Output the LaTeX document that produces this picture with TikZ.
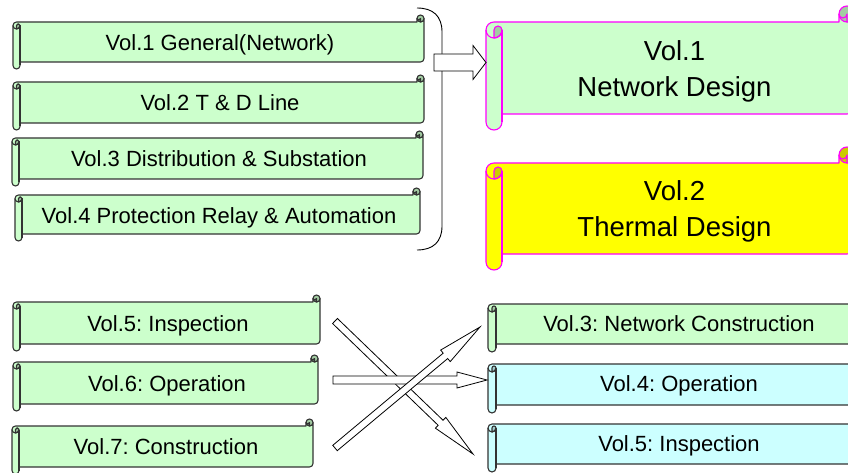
\documentclass[tikz,border=0pt]{standalone}
\usepackage{fontspec}
\setmainfont{Liberation Sans}
\usetikzlibrary{calc}
\frenchspacing

\definecolor{scrollgreen}{HTML}{CCFFCC}
\definecolor{scrollgreend}{HTML}{A3CCA3}
\definecolor{scrollcyan}{HTML}{CCFFFF}
\definecolor{scrollcyand}{HTML}{A3CCCC}
\definecolor{scrollyellow}{HTML}{FFFF00}
\definecolor{scrollyellowd}{HTML}{CCCC00}
\definecolor{rimmagenta}{HTML}{FF00FF}
\definecolor{rimdark}{HTML}{333333}

% horizontal scroll: left, top, right, bottom, roll size, fill, curl fill, line
\newcommand{\hscroll}[8]{%
  \pgfmathsetmacro{\scrh}{#5/2}\pgfmathsetmacro{\scrq}{#5/4}%
  \filldraw[fill=#6, draw=#8, scrollline]
    (#3,{#2+\scrh}) arc[start angle=0, end angle=90, radius=\scrh]
    -- ({#3-\scrh},{#2+\scrh}) arc[start angle=0, end angle=180, radius=\scrq]
    -- ({#3-#5},{#2+#5}) -- ({#1+\scrh},{#2+#5})
    arc[start angle=270, end angle=180, radius=\scrh]
    -- (#1,{#4-\scrh}) arc[start angle=180, end angle=0, radius=\scrh]
    -- ({#1+#5},{#4-#5}) -- ({#3-\scrh},{#4-#5})
    arc[start angle=90, end angle=0, radius=\scrh] -- cycle;
  % right curl
  \filldraw[fill=#7, draw=#8, scrollline] ({#3-\scrh},{#2+\scrh}) circle[radius=\scrh];
  \draw[draw=#8, scrollline] ({#3-\scrh},{#2+#5}) -- ({#3-\scrh},{#2+\scrh})
    arc[start angle=0, end angle=180, radius=\scrq];
  % left roll
  \filldraw[fill=#7, draw=#8, scrollline] ({#1+\scrh},{#2+#5+\scrh})
    arc[start angle=180, end angle=360, radius=\scrq]
    arc[start angle=0, end angle=90, radius=\scrh] -- cycle;
  \draw[draw=#8, scrollline] (#1,{#2+#5+\scrh}) arc[start angle=180, end angle=0, radius=\scrh];
  \draw[draw=#8, scrollline] ({#1+#5},{#2+#5+\scrh}) -- ({#1+#5},{#4-\scrh});
}

% block arrow: from, to, shaft half width, head half width, head length
\newcommand{\blockarrow}[5]{%
  \coordinate (ba) at ($(#2)!#5!(#1)$);
  \filldraw[arrowbox] ($(#1)!#3!90:(#2)$) -- ($(ba)!#3!-90:(#1)$) -- ($(ba)!#4!-90:(#1)$) -- (#2)
    -- ($(ba)!#4!90:(#1)$) -- ($(ba)!#3!90:(#1)$) -- ($(#1)!#3!-90:(#2)$) -- cycle;
}

\begin{document}
\begin{tikzpicture}[x=1pt, y=-1pt,
    scrollline/.style={line width=1.1pt, line join=round},
    arrowbox/.style={fill=white, draw=black, line width=0.8pt},
    smalltext/.style={font=\fontsize{22}{26}\selectfont, anchor=base},
    bigtext/.style={font=\fontsize{27.5}{36}\selectfont, align=center}]
        \useasboundingbox (0,0) rectangle (848,473);
        \clip (0,0) rectangle (848,473);

        % old volumes
        \hscroll{13}{15}{424}{69}{7}{scrollgreen}{scrollgreend}{rimdark}
        \hscroll{13}{75}{424}{130}{7}{scrollgreen}{scrollgreend}{rimdark}
        \hscroll{12}{131}{423}{186}{7}{scrollgreen}{scrollgreend}{rimdark}
        \hscroll{15}{188}{420}{241}{7}{scrollgreen}{scrollgreend}{rimdark}
        \node[smalltext] (gen) at (220,51) {Vol.1 General(Network)};
        \node[smalltext] (td)  at (220,111) {Vol.2 T \& D Line};
        \node[smalltext] (dis) at (219,167) {Vol.3 Distribution \& Substation};
        \node[smalltext] (pro) at (219,223) {Vol.4 Protection Relay \& Automation};

        % the bracket
        \draw[line width=0.9pt] (417,8) .. controls (433,8) and (442,16) .. (442,32)
            -- (442,226) .. controls (442,242) and (433,250) .. (417,250);

        % new design volumes
        \hscroll{486}{6}{855}{130}{16}{scrollgreen}{scrollgreend}{rimmagenta}
        \hscroll{486}{147}{855}{270}{16}{scrollyellow}{scrollyellowd}{rimmagenta}
        \node[bigtext] (netdes) at (674.5,71) {Vol.1\\Network Design};
        \node[bigtext] (thdes)  at (674.5,211.5) {Vol.2\\Thermal Design};

        \coordinate (grpout) at (434,62.5);
        \coordinate (netin)  at (486,62.5);
        \blockarrow{grpout}{netin}{8.5pt}{17pt}{13pt}

        % lower left volumes
        \hscroll{13}{295}{320}{351}{7}{scrollgreen}{scrollgreend}{rimdark}
        \hscroll{13}{355}{318}{411}{7}{scrollgreen}{scrollgreend}{rimdark}
        \hscroll{12}{419}{313}{474}{7}{scrollgreen}{scrollgreend}{rimdark}
        \node[smalltext] (insp) at (168,331) {Vol.5: Inspection};
        \node[smalltext] (oper) at (167,391) {Vol.6: Operation};
        \node[smalltext] (cons) at (166,454) {Vol.7: Construction};

        % lower right volumes
        \hscroll{488}{296}{866}{352}{8}{scrollgreen}{scrollgreend}{rimdark}
        \hscroll{488}{356}{866}{413}{8}{scrollcyan}{scrollcyand}{rimdark}
        \hscroll{488}{416}{866}{472}{8}{scrollcyan}{scrollcyand}{rimdark}
        \node[smalltext] (ncons) at (679,331) {Vol.3: Network Construction};
        \node[smalltext] (noper) at (679,391) {Vol.4: Operation};
        \node[smalltext] (ninsp) at (679,451) {Vol.5: Inspection};

        % crossing arrows
        \coordinate (inspout) at (335,321);
        \coordinate (inspin)  at (473,454);
        \coordinate (operout) at (333,380);
        \coordinate (operin)  at (487,380);
        \coordinate (consout) at (335,448);
        \coordinate (consin)  at (480,327);
        \blockarrow{inspout}{inspin}{3.5pt}{7.5pt}{45pt}
        \blockarrow{operout}{operin}{4pt}{8pt}{30pt}
        \blockarrow{consout}{consin}{3.5pt}{7.5pt}{45pt}
    \end{tikzpicture}
\end{document}
